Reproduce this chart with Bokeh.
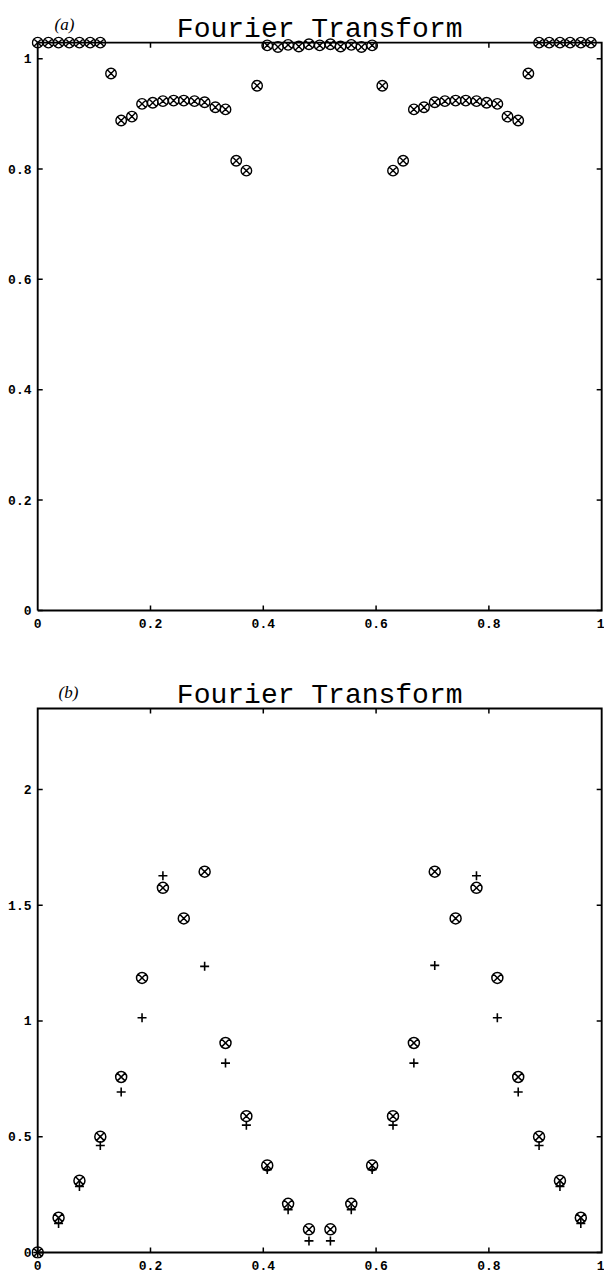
from bokeh.plotting import figure
from bokeh.models import Label, FixedTicker, Range1d
from bokeh.layouts import column
from bokeh.embed import file_html
from bokeh.resources import INLINE

# ---------------- data ----------------
# panel (a): 54 frequency samples
a_freq = [0.000, 0.019, 0.037, 0.056, 0.074, 0.093, 0.111, 0.130, 0.148, 0.167,
          0.185, 0.204, 0.222, 0.241, 0.259, 0.278, 0.296, 0.315, 0.333, 0.352,
          0.370, 0.389, 0.407, 0.426, 0.444, 0.463, 0.481, 0.500, 0.519, 0.537,
          0.556, 0.574, 0.593, 0.611, 0.630, 0.648, 0.667, 0.685, 0.704, 0.722,
          0.741, 0.759, 0.778, 0.796, 0.815, 0.833, 0.852, 0.870, 0.889, 0.907,
          0.926, 0.944, 0.963, 0.981]
a_mag = [1.029, 1.029, 1.029, 1.029, 1.029, 1.029, 1.029, 0.973, 0.888, 0.895,
         0.918, 0.920, 0.923, 0.924, 0.924, 0.923, 0.921, 0.912, 0.908, 0.815,
         0.797, 0.951, 1.024, 1.021, 1.025, 1.022, 1.026, 1.024, 1.026, 1.022,
         1.025, 1.021, 1.024, 0.951, 0.797, 0.815, 0.908, 0.912, 0.921, 0.923,
         0.924, 0.924, 0.923, 0.920, 0.918, 0.895, 0.888, 0.973, 1.029, 1.029,
         1.029, 1.029, 1.029, 1.029]

# panel (b): 27 frequency samples, two series
NAN = float("nan")
b_freq = [0.000, 0.037, 0.074, 0.111, 0.148, 0.185, 0.222, 0.259, 0.296, 0.333,
          0.370, 0.407, 0.444, 0.481, 0.519, 0.556, 0.593, 0.630, 0.667, 0.704,
          0.741, 0.778, 0.815, 0.852, 0.889, 0.926, 0.963]
b_circ = [0.0, 0.15, 0.31, 0.50, 0.758, 1.186, 1.575, 1.443, 1.645, 0.905,
          0.589, 0.376, 0.21, 0.10, 0.10, 0.21, 0.376, 0.589, 0.905, 1.645,
          1.443, 1.575, 1.186, 0.758, 0.50, 0.31, 0.15]
b_plus = [0.0, 0.125, 0.285, 0.462, 0.693, 1.014, 1.627, NAN, 1.236, 0.818,
          0.550, 0.358, 0.185, 0.05, 0.05, 0.185, 0.358, 0.550, 0.818, 1.240,
          NAN, 1.627, 1.014, 0.693, 0.462, 0.285, 0.125]

x_ticks = [0, 0.2, 0.4, 0.6, 0.8, 1]
x_tick_labels = ["0", "0.2", "0.4", "0.6", "0.8", "1"]
a_y_ticks = [0, 0.2, 0.4, 0.6, 0.8, 1]
a_y_tick_labels = ["0", "0.2", "0.4", "0.6", "0.8", "1"]
b_y_ticks = [0, 0.5, 1, 1.5, 2]
b_y_tick_labels = ["0", "0.5", "1", "1.5", "2"]
a_top = 1.029
b_top = 2.35
title_text = "Fourier Transform"
panel_labels = ["(a)", "(b)"]

TICK_FONT = "Liberation Mono"
TITLE_FONT = "Liberation Mono"
W = 604
BORDER_LEFT = 31
X_START, X_END = -0.011, 1.005
FRAME_LW = 1.9


def label_axis(ax, ticks, labels, standoff):
    ax.ticker = FixedTicker(ticks=ticks)
    ax.major_label_overrides = {t: l for t, l in zip(ticks, labels)}
    ax.axis_line_color = None
    ax.major_tick_line_color = None
    ax.minor_tick_line_color = None
    ax.major_tick_in = 0
    ax.major_tick_out = 0
    ax.major_label_text_font = TICK_FONT
    ax.major_label_text_font_style = "bold"
    ax.major_label_text_font_size = "13px"
    ax.major_label_text_color = "black"
    ax.major_label_standoff = standoff


def make_panel(height, ytop, ystart, yend, yticks, ylabels, border_top, border_bottom):
    p = figure(width=W, height=height, x_range=Range1d(X_START, X_END),
               y_range=Range1d(ystart, yend),
               output_backend="svg", toolbar_location=None,
               min_border_left=BORDER_LEFT, min_border_right=0,
               min_border_top=border_top, min_border_bottom=border_bottom)
    p.grid.visible = False
    p.outline_line_color = None
    p.background_fill_color = "white"
    p.border_fill_color = "white"
    label_axis(p.xaxis[0], x_ticks, x_tick_labels, 2)
    label_axis(p.yaxis[0], yticks, ylabels, 0)

    # frame box from 0..1 in x and 0..ytop in y
    p.line(x=[0, 1, 1, 0, 0], y=[0, 0, ytop, ytop, 0], line_color="black",
           line_width=FRAME_LW, line_join="miter")

    # inward tick marks, 5 px long
    frame_w = W - BORDER_LEFT
    frame_h = height - border_top - border_bottom
    tx = 5.0 * (X_END - X_START) / frame_w
    ty = 5.0 * (yend - ystart) / frame_h
    inner_x = x_ticks[1:-1]
    n = len(inner_x)
    p.segment(x0=inner_x, y0=[0] * n, x1=inner_x, y1=[ty] * n,
              line_color="black", line_width=1.5)
    p.segment(x0=inner_x, y0=[ytop] * n, x1=inner_x, y1=[ytop - ty] * n,
              line_color="black", line_width=1.5)
    m = len(yticks)
    p.segment(x0=[0] * m, y0=yticks, x1=[tx] * m, y1=yticks,
              line_color="black", line_width=1.5)
    p.segment(x0=[1] * m, y0=yticks, x1=[1 - tx] * m, y1=yticks,
              line_color="black", line_width=1.5)
    return p


# ---------- panel (a) ----------
H1 = 634
p1 = make_panel(H1, a_top, -0.011, 1.080, a_y_ticks, a_y_tick_labels, 14, 18)
p1.scatter(a_freq, a_mag, marker="circle_x", size=10.5, line_color="black",
           fill_color=None, line_width=1.4)
p1.add_layout(Label(x=0.5, y=a_top, text=title_text, text_align="center",
                    text_baseline="alphabetic", y_offset=13, text_font=TITLE_FONT,
                    text_font_size="28px", text_color="black"))
p1.add_layout(Label(x=0.03, y=a_top, text=panel_labels[0], text_align="left",
                    text_baseline="alphabetic", y_offset=18, text_font="Liberation Serif",
                    text_font_style="italic", text_font_size="17px", text_color="black"))

# ---------- panel (b) ----------
H2 = 642
p2 = make_panel(H2, b_top, -0.026, 2.488, b_y_ticks, b_y_tick_labels, 42, 18)
p2.scatter(b_freq, b_plus, marker="cross", size=9, line_color="black", line_width=1.6)
p2.scatter(b_freq, b_circ, marker="circle_x", size=11, line_color="black",
           fill_color=None, line_width=1.5)
p2.add_layout(Label(x=0.5, y=b_top, text=title_text, text_align="center",
                    text_baseline="alphabetic", y_offset=13, text_font=TITLE_FONT,
                    text_font_size="28px", text_color="black"))
p2.add_layout(Label(x=0.037, y=b_top, text=panel_labels[1], text_align="left",
                    text_baseline="alphabetic", y_offset=16, text_font="Liberation Serif",
                    text_font_style="italic", text_font_size="17px", text_color="black"))

layout = column(p1, p2, spacing=0)
open("out.html", "w").write(file_html(layout, INLINE))
